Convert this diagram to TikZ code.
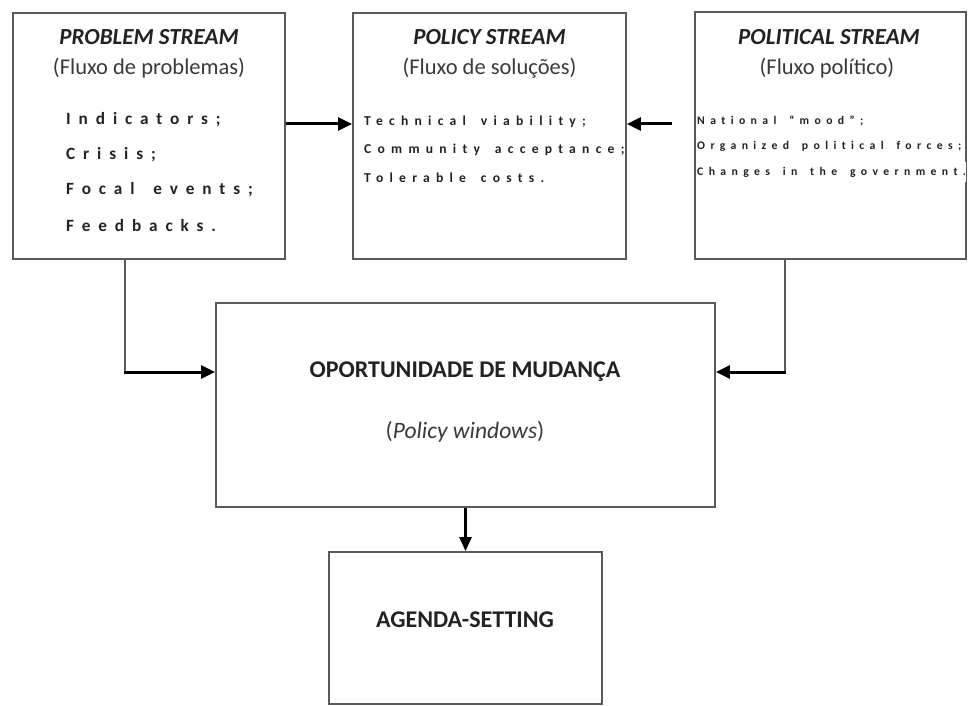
\documentclass[tikz,border=0pt]{standalone}
\usepackage{fontspec}
\setmainfont{Carlito}
\newfontfamily\spaced[LetterSpace=46,WordSpace=1.6,Ligatures=NoCommon]{Carlito}
\usetikzlibrary{arrows.meta}
\definecolor{frame}{HTML}{5A5A5A}
\definecolor{ink}{HTML}{222222}
\definecolor{subink}{HTML}{3A3A3A}
\begin{document}
\begin{tikzpicture}[x=1pt,y=-1pt,
  box/.style={draw=frame, line width=1.9pt, inner sep=0pt, fill=none},
  ttl/.style={text=ink, font=\fontsize{23}{27}\selectfont\bfseries\itshape, inner sep=0pt},
  sub/.style={text=subink, font=\fontsize{22.5}{26}\selectfont, inner sep=0pt},
  bigt/.style={text=ink, font=\fontsize{24}{28}\selectfont\bfseries, inner sep=0pt},
  itemA/.style={text=ink, anchor=west, inner sep=0pt, font=\spaced\bfseries\fontsize{17.2}{19}\selectfont},
  itemB/.style={text=ink, anchor=west, inner sep=0pt, font=\spaced\bfseries\fontsize{13.6}{15}\selectfont},
  itemC/.style={text=ink, anchor=west, inner sep=0pt, font=\spaced\bfseries\fontsize{11.7}{13}\selectfont},
  conn/.style={draw=frame, line width=1.9pt},
  arr/.style={draw=black, line width=3pt, -{Triangle[length=14pt,width=13pt]}},
  arrd/.style={draw=black, line width=2.6pt, -{Triangle[length=14pt,width=12pt]}}
]
\useasboundingbox (0,0) rectangle (974,706);
\fill[white] (0,0) rectangle (974,706);

% boxes
\node[box, minimum width=272pt, minimum height=246pt] (pb) at (149,136) {};
\node[box, minimum width=273pt, minimum height=246pt] (ps) at (489.5,136) {};
\node[box, minimum width=271pt, minimum height=247pt] (pol) at (830.5,135.5) {};
\node[box, minimum width=499pt, minimum height=204pt] (win) at (465.5,405) {};
\node[box, minimum width=273pt, minimum height=152pt] (ag) at (465.5,628) {};

% problem stream
\node[ttl] (t1) at (149,37) {PROBLEM STREAM};
\node[sub] (s1) at (149,68) {(Fluxo de problemas)};
\node[itemA] (a1) at (66,120) {Indicators;};
\node[itemA] (a2) at (66,155) {Crisis;};
\node[itemA] (a3) at (66,190) {Focal events;};
\node[itemA] (a4) at (66,226) {Feedbacks.};

% policy stream
\node[ttl] (t2) at (489.5,37) {POLICY STREAM};
\node[sub] (s2) at (489.5,68) {(Fluxo de soluções)};
\node[itemB] (b1) at (364,122) {Technical viability;};
\node[itemB, fill=white, inner ysep=3pt] (b2) at (364,150) {Community acceptance;};
\node[itemB] (b3) at (364,178) {Tolerable costs.};

% political stream
\node[ttl] (t3) at (829,37) {POLITICAL STREAM};
\node[sub] (s3) at (827,68) {(Fluxo político)};
\node[itemC] (c1) at (697,121) {National “mood”;};
\node[itemC, fill=white, inner ysep=4pt] (c2) at (697,146) {Organized political forces;};
\node[itemC, fill=white, inner ysep=5pt] (c3) at (697,172) {Changes in the government.};

% window
\node[bigt] (w1) at (465,372) {OPORTUNIDADE DE MUDANÇA};
\node[sub, font=\fontsize{23.5}{27}\selectfont] (w2) at (465,432) {(\textit{Policy windows})};
% agenda
\node[bigt] (g1) at (465,620) {AGENDA-SETTING};

% connectors
\coordinate (top) at (0,124);
\draw[arr] (top -| pb.east) -- (top -| ps.west);
\coordinate (polin) at (672,124);
\draw[arr] (polin) -- (polin -| ps.east);

\coordinate (lk) at (125,372);
\draw[conn] (lk |- pb.south) -- (lk);
\draw[arr] ([xshift=-0.95pt]lk) -- (lk -| win.west);

\coordinate (rk) at (785,372);
\draw[conn] (rk |- pol.south) -- (rk);
\draw[arr] ([xshift=0.95pt]rk) -- (rk -| win.east);

\draw[arrd] (win.south) -- (ag.north);
\end{tikzpicture}
\end{document}
